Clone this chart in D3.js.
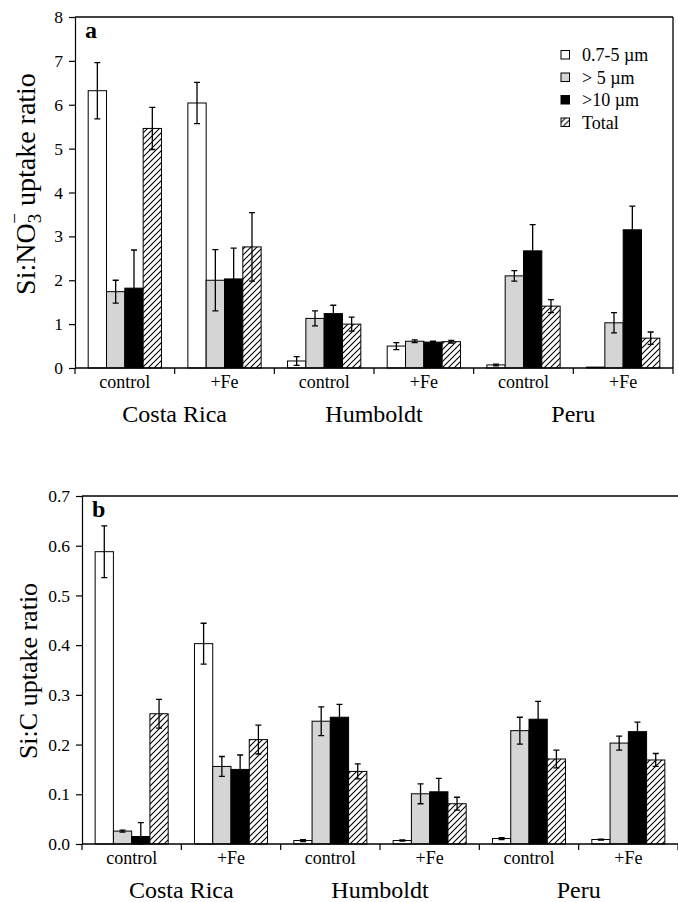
<!DOCTYPE html>
<html>
<head>
<meta charset="utf-8">
<script src="https://cdn.jsdelivr.net/npm/d3@7"></script>
<style>
  body { margin: 0; background: #fff; }
  svg { display: block; }
</style>
</head>
<body>
<div id="chart"></div>
<script>
// treatment labels, left to right
const treatments = ['control', '+Fe', 'control', '+Fe', 'control', '+Fe'];
const regions = ['Costa Rica', 'Humboldt', 'Peru'];
const sizeClasses = ['0.7-5 \u00b5m', '> 5 \u00b5m', '>10 \u00b5m', 'Total'];

// panel a: Si:NO3 uptake ratio, one row per treatment, one value per size class
const nitrateMean = [
    [6.32, 1.74, 1.82, 5.46],
    [6.04, 2.00, 2.03, 2.76],
    [0.16, 1.13, 1.24, 1.00],
    [0.50, 0.61, 0.59, 0.60],
    [0.07, 2.10, 2.67, 1.41],
    [0.02, 1.03, 3.15, 0.68]
];
const nitrateErr = [
    [0.64, 0.26, 0.87, 0.48],
    [0.47, 0.70, 0.70, 0.78],
    [0.10, 0.17, 0.19, 0.16],
    [0.08, 0.03, 0.02, 0.03],
    [0.02, 0.12, 0.60, 0.15],
    [0.00, 0.23, 0.54, 0.14]
];
const nitrateTicks = [0, 1, 2, 3, 4, 5, 6, 7, 8];

// panel b: Si:C uptake ratio
const carbonMean = [
    [0.588, 0.026, 0.015, 0.262],
    [0.403, 0.156, 0.150, 0.210],
    [0.007, 0.247, 0.255, 0.146],
    [0.007, 0.101, 0.105, 0.081],
    [0.011, 0.228, 0.251, 0.171],
    [0.009, 0.203, 0.226, 0.169]
];
const carbonErr = [
    [0.052, 0.002, 0.028, 0.029],
    [0.041, 0.020, 0.029, 0.029],
    [0.002, 0.029, 0.026, 0.015],
    [0.001, 0.020, 0.027, 0.013],
    [0.002, 0.027, 0.036, 0.018],
    [0.001, 0.014, 0.019, 0.013]
];
const carbonTicks = [0, 0.1, 0.2, 0.3, 0.4, 0.5, 0.6, 0.7];

const FONT = '"Liberation Serif", "Times New Roman", serif';
const W = 678, H = 902;
const svg = d3.select('#chart').append('svg')
    .attr('width', W)
    .attr('height', H)
    .attr('font-family', FONT);

const defs = svg.append('defs');
const hatch = defs.append('pattern')
    .attr('id', 'hatch')
    .attr('patternUnits', 'userSpaceOnUse')
    .attr('width', 6)
    .attr('height', 6);
hatch.append('rect').attr('width', 6).attr('height', 6).attr('fill', '#fff');
hatch.append('path')
    .attr('d', 'M-1,1 l2,-2 M0,6 l6,-6 M5,7 l2,-2')
    .attr('stroke', '#000')
    .attr('stroke-width', 1.1);

const fills = ['#fff', '#d5d5d5', '#000', 'url(#hatch)'];

function drawPanel(opts) {
    const { left, right, top, bottom, yMax, ticks, fmt, means, errs, letter, title, boxRight } = opts;

    const g = svg.append('g');

    const x0 = d3.scaleBand()
        .domain(d3.range(treatments.length))
        .range([left, right]);
    const x1 = d3.scaleBand()
        .domain(d3.range(sizeClasses.length))
        .range([0, x0.bandwidth()])
        .paddingOuter(0.72);
    const y = d3.scaleLinear()
        .domain([0, yMax])
        .range([bottom, top]);

    // bars
    means.forEach((row, i) => {
        row.forEach((v, j) => {
            const bx = x0(i) + x1(j);
            g.append('rect')
                .attr('x', bx)
                .attr('y', y(v))
                .attr('width', x1.bandwidth())
                .attr('height', y(0) - y(v))
                .attr('fill', fills[j])
                .attr('stroke', '#000')
                .attr('stroke-width', 1);

            const e = errs[i][j];
            if (e > 0) {
                const cx = bx + x1.bandwidth() / 2;
                g.append('path')
                    .attr('d', `M${cx},${y(v + e)}V${y(Math.max(0, v - e))}` +
                        `M${cx - 3},${y(v + e)}H${cx + 3}` +
                        `M${cx - 3},${y(Math.max(0, v - e))}H${cx + 3}`)
                    .attr('stroke', '#000')
                    .attr('stroke-width', 1.3)
                    .attr('fill', 'none');
            }
        });
    });

    // y axis
    const yAxis = g.append('g')
        .attr('transform', `translate(${left},0)`)
        .call(d3.axisLeft(y).tickValues(ticks).tickFormat(fmt).tickSize(6).tickPadding(6))
        .attr('font-family', FONT)
        .attr('font-size', 17.5);
    yAxis.selectAll('text').attr('fill', '#000');
    yAxis.selectAll('line, path').attr('stroke', '#000').attr('stroke-width', 1.2);

    // x axis line + tick marks at group boundaries
    g.append('line')
        .attr('x1', left).attr('x2', right)
        .attr('y1', y(0)).attr('y2', y(0))
        .attr('stroke', '#000').attr('stroke-width', 1.3);
    const bounds = d3.range(treatments.length).map(i => x0(i)).concat([right]);
    g.selectAll('.xt').data(bounds).join('line')
        .attr('x1', d => d).attr('x2', d => d)
        .attr('y1', y(0)).attr('y2', y(0) + 6)
        .attr('stroke', '#000').attr('stroke-width', 1.2);

    // top border and right border
    g.append('line')
        .attr('x1', left).attr('x2', boxRight ? right : W)
        .attr('y1', top).attr('y2', top)
        .attr('stroke', '#000').attr('stroke-width', 1.3);
    if (boxRight) {
        g.append('line')
            .attr('x1', right).attr('x2', right)
            .attr('y1', top).attr('y2', y(0))
            .attr('stroke', '#000').attr('stroke-width', 1.3);
    }

    // treatment labels
    treatments.forEach((t, i) => {
        g.append('text')
            .attr('x', x0(i) + x0.bandwidth() / 2)
            .attr('y', y(0) + 20)
            .attr('text-anchor', 'middle')
            .attr('font-size', '18px')
            .text(t);
    });

    // region labels
    regions.forEach((r, k) => {
        g.append('text')
            .attr('x', x0(2 * k + 1))
            .attr('y', y(0) + 54)
            .attr('text-anchor', 'middle')
            .attr('font-size', '24px')
            .text(r);
    });

    // panel letter
    g.append('text')
        .attr('x', left + 10)
        .attr('y', top + 21)
        .attr('font-size', '24px')
        .attr('font-weight', 'bold')
        .text(letter);

    // y title
    const t = g.append('text')
        .attr('transform', `translate(${opts.titleX},${opts.titleY}) rotate(-90)`)
        .attr('text-anchor', 'middle')
        .attr('font-size', opts.titleSize);
    title(t);

    return { x0, x1, y };
}

drawPanel({
    left: 75, right: 673, top: 17, bottom: 368,
    yMax: 8, ticks: nitrateTicks, fmt: d3.format('d'),
    means: nitrateMean, errs: nitrateErr, letter: 'a', boxRight: true,
    titleX: 35, titleY: 184, titleSize: '28px',
    title: t => {
        t.append('tspan').text('Si:NO');
        t.append('tspan').attr('font-size', '19px').attr('dy', 6).text('3');
        t.append('tspan').attr('font-size', '19px').attr('dx', -10).attr('dy', -20).text('\u2212');
        t.append('tspan').attr('dy', 14).text(' uptake ratio');
    }
});

drawPanel({
    left: 82, right: 678, top: 496, bottom: 844,
    yMax: 0.7, ticks: carbonTicks, fmt: d3.format('.1f'),
    means: carbonMean, errs: carbonErr, letter: 'b', boxRight: false,
    titleX: 37, titleY: 671, titleSize: '26px',
    title: t => t.text('Si:C uptake ratio')
});

// legend (panel a, top right)
const legend = svg.append('g').attr('transform', 'translate(561,55)');
sizeClasses.forEach((s, i) => {
    const row = legend.append('g').attr('transform', `translate(0,${i * 22.5})`);
    row.append('rect')
        .attr('x', 0).attr('y', -4.5)
        .attr('width', 8.5).attr('height', 8.5)
        .attr('fill', fills[i])
        .attr('stroke', '#000')
        .attr('stroke-width', 1);
    row.append('text')
        .attr('x', 21).attr('y', 0)
        .attr('dy', '0.35em')
        .attr('font-size', '18px')
        .text(s);
});
</script>
</body>
</html>
